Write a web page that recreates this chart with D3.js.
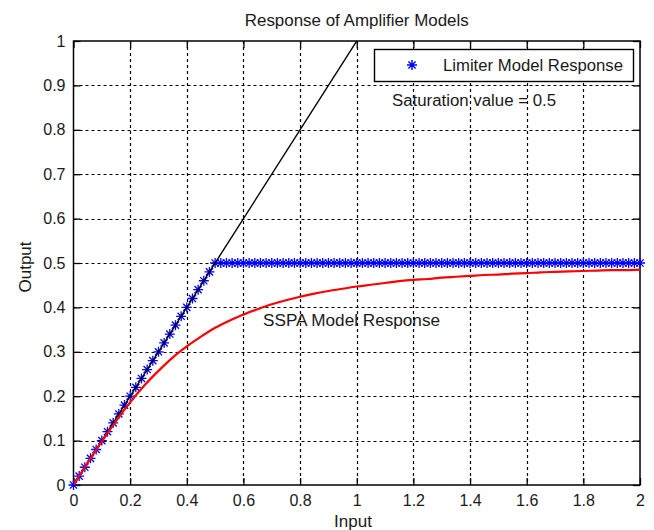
<!DOCTYPE html>
<html>
<head>
<meta charset="utf-8">
<script src="https://cdn.jsdelivr.net/npm/d3@7"></script>
<style>
  html, body { margin: 0; padding: 0; background: #fff; }
  svg { display: block; font-family: Arial, "Liberation Sans", sans-serif; }
</style>
</head>
<body>
<svg id="chart" width="654" height="530"></svg>
<script>
// Input drive levels and the hard-limiter output (saturation at 0.5)
const limiterInput = [0,0.02,0.04,0.06,0.08,0.1,0.12,0.14,0.16,0.18,0.2,0.22,0.24,0.26,0.28,0.3,0.32,0.34,0.36,0.38,0.4,0.42,0.44,0.46,0.48,0.5,0.52,0.54,0.56,0.58,0.6,0.62,0.64,0.66,0.68,0.7,0.72,0.74,0.76,0.78,0.8,0.82,0.84,0.86,0.88,0.9,0.92,0.94,0.96,0.98,1,1.02,1.04,1.06,1.08,1.1,1.12,1.14,1.16,1.18,1.2,1.22,1.24,1.26,1.28,1.3,1.32,1.34,1.36,1.38,1.4,1.42,1.44,1.46,1.48,1.5,1.52,1.54,1.56,1.58,1.6,1.62,1.64,1.66,1.68,1.7,1.72,1.74,1.76,1.78,1.8,1.82,1.84,1.86,1.88,1.9,1.92,1.94,1.96,1.98,2];
const limiterOutput = [0,0.02,0.04,0.06,0.08,0.1,0.12,0.14,0.16,0.18,0.2,0.22,0.24,0.26,0.28,0.3,0.32,0.34,0.36,0.38,0.4,0.42,0.44,0.46,0.48,0.5,0.5,0.5,0.5,0.5,0.5,0.5,0.5,0.5,0.5,0.5,0.5,0.5,0.5,0.5,0.5,0.5,0.5,0.5,0.5,0.5,0.5,0.5,0.5,0.5,0.5,0.5,0.5,0.5,0.5,0.5,0.5,0.5,0.5,0.5,0.5,0.5,0.5,0.5,0.5,0.5,0.5,0.5,0.5,0.5,0.5,0.5,0.5,0.5,0.5,0.5,0.5,0.5,0.5,0.5,0.5,0.5,0.5,0.5,0.5,0.5,0.5,0.5,0.5,0.5,0.5,0.5,0.5,0.5,0.5,0.5,0.5,0.5,0.5,0.5,0.5];

// Solid-state PA (smooth saturation) response
const sspaInput = [0,0.05,0.1,0.15,0.2,0.25,0.3,0.35,0.4,0.45,0.5,0.55,0.6,0.65,0.7,0.75,0.8,0.85,0.9,0.95,1,1.05,1.1,1.15,1.2,1.25,1.3,1.35,1.4,1.45,1.5,1.55,1.6,1.65,1.7,1.75,1.8,1.85,1.9,1.95,2];
const sspaOutput = [0,0.050,0.098,0.144,0.186,0.224,0.257,0.287,0.312,0.334,0.354,0.370,0.384,0.396,0.407,0.416,0.424,0.431,0.437,0.442,0.447,0.451,0.455,0.459,0.462,0.464,0.467,0.469,0.471,0.473,0.474,0.476,0.477,0.479,0.480,0.481,0.482,0.483,0.484,0.484,0.485];

// Linear (ideal) amplifier reference line
const linearInput = [0, 2];
const linearOutput = [0, 2];

const xTicks = [0,0.2,0.4,0.6,0.8,1,1.2,1.4,1.6,1.8,2];
const yTicks = [0,0.1,0.2,0.3,0.4,0.5,0.6,0.7,0.8,0.9,1];

const svg = d3.select("#chart");
const plotLeft = 73.5, plotRight = 640, plotTop = 41, plotBottom = 485;
const x = d3.scaleLinear().domain([0, 2]).range([plotLeft, plotRight]);
const y = d3.scaleLinear().domain([0, 1]).range([plotBottom, plotTop]);

svg.append("defs").append("clipPath").attr("id", "plotArea")
  .append("rect").attr("x", plotLeft).attr("y", plotTop)
  .attr("width", plotRight - plotLeft).attr("height", plotBottom - plotTop);

// Dotted grid
const grid = svg.append("g").attr("stroke", "#000").attr("stroke-width", 1.2)
  .attr("stroke-dasharray", "3,3");
grid.selectAll("line.gx").data(xTicks.slice(1, -1)).join("line").attr("class", "gx")
  .attr("x1", d => Math.round(x(d)) + 0.5).attr("x2", d => Math.round(x(d)) + 0.5)
  .attr("y1", plotTop).attr("y2", plotBottom);
grid.selectAll("line.gy").data(yTicks.slice(1, -1)).join("line").attr("class", "gy")
  .attr("y1", d => Math.round(y(d)) + 0.5).attr("y2", d => Math.round(y(d)) + 0.5)
  .attr("x1", plotLeft).attr("x2", plotRight);

// Axes with inward ticks on all four sides
const tickLen = 7;
const axB = svg.append("g").attr("transform", `translate(0,${plotBottom})`)
  .call(d3.axisBottom(x).tickValues(xTicks).tickSizeInner(-tickLen).tickSizeOuter(0)
    .tickPadding(10).tickFormat(d3.format("")));
const axT = svg.append("g").attr("transform", `translate(0,${plotTop})`)
  .call(d3.axisTop(x).tickValues(xTicks).tickSizeInner(-tickLen).tickSizeOuter(0).tickFormat(""));
const axL = svg.append("g").attr("transform", `translate(${plotLeft},0)`)
  .call(d3.axisLeft(y).tickValues(yTicks).tickSizeInner(-tickLen).tickSizeOuter(0)
    .tickPadding(14).tickFormat(d3.format("")));
const axR = svg.append("g").attr("transform", `translate(${plotRight},0)`)
  .call(d3.axisRight(y).tickValues(yTicks).tickSizeInner(-tickLen).tickSizeOuter(0).tickFormat(""));
[axB, axT, axL, axR].forEach(g => {
  g.select(".domain").remove();
  g.selectAll("line").attr("stroke", "#000").attr("stroke-width", 1.3);
  g.selectAll("text").attr("fill", "#1a1a1a").attr("font-size", 16)
    .attr("font-family", "Arial, 'Liberation Sans', sans-serif");
});
axL.selectAll("text").attr("dx", "6");

// Frame
svg.append("rect").attr("x", plotLeft).attr("y", plotTop)
  .attr("width", plotRight - plotLeft).attr("height", plotBottom - plotTop)
  .attr("fill", "none").attr("stroke", "#000").attr("stroke-width", 1.5);

// Asterisk marker (plus and cross)
function starPath(s) {
  const d = s * 0.72;
  return `M${-s},0L${s},0M0,${-s}L0,${s}M${-d},${-d}L${d},${d}M${-d},${d}L${d},${-d}`;
}

// Limiter markers
const limiterPts = limiterInput.map((v, i) => [v, limiterOutput[i]]);
svg.append("g").selectAll("path").data(limiterPts).join("path")
  .attr("transform", d => `translate(${x(d[0])},${y(d[1])})`)
  .attr("d", starPath(5))
  .attr("fill", "none").attr("stroke", "#0000ff").attr("stroke-width", 1.3);

const line = d3.line().x(d => x(d[0])).y(d => y(d[1]));

// Linear reference
svg.append("path")
  .datum(linearInput.map((v, i) => [v, linearOutput[i]]))
  .attr("clip-path", "url(#plotArea)")
  .attr("d", line).attr("fill", "none").attr("stroke", "#000").attr("stroke-width", 1.4);

// SSPA response
svg.append("path")
  .datum(sspaInput.map((v, i) => [v, sspaOutput[i]]))
  .attr("clip-path", "url(#plotArea)")
  .attr("d", line.curve(d3.curveMonotoneX)).attr("fill", "none")
  .attr("stroke", "#ff0000").attr("stroke-width", 2.2);

// Legend
const lg = svg.append("g");
lg.append("rect").attr("x", 374.5).attr("y", 49.5).attr("width", 259).attr("height", 32)
  .attr("fill", "#fff").attr("stroke", "#000").attr("stroke-width", 1.4);
lg.append("path").attr("transform", "translate(412,65)").attr("d", starPath(5))
  .attr("fill", "none").attr("stroke", "#0000ff").attr("stroke-width", 1.4);
lg.append("text").attr("x", 443).attr("y", 71).attr("font-size", 16)
  .attr("fill", "#1a1a1a").attr("textLength", 180).attr("lengthAdjust", "spacingAndGlyphs")
  .text("Limiter Model Response");

// Annotations
svg.append("text").attr("x", 392).attr("y", 106).attr("font-size", 16)
  .attr("fill", "#1a1a1a").attr("textLength", 164).attr("lengthAdjust", "spacingAndGlyphs")
  .text("Saturation value = 0.5");
svg.append("text").attr("x", 263).attr("y", 326).attr("font-size", 16)
  .attr("fill", "#1a1a1a").attr("textLength", 177).attr("lengthAdjust", "spacingAndGlyphs")
  .text("SSPA Model Response");

// Title and axis labels
svg.append("text").attr("x", (plotLeft + plotRight) / 2).attr("y", 26).attr("text-anchor", "middle")
  .attr("font-size", 17).attr("fill", "#1a1a1a")
  .attr("textLength", 224).attr("lengthAdjust", "spacingAndGlyphs")
  .text("Response of Amplifier Models");
svg.append("text").attr("x", 353).attr("y", 527).attr("text-anchor", "middle")
  .attr("font-size", 17).attr("fill", "#1a1a1a").text("Input");
svg.append("text").attr("transform", "translate(31,267) rotate(-90)").attr("text-anchor", "middle")
  .attr("font-size", 17).attr("fill", "#1a1a1a").text("Output");
</script>
</body>
</html>
